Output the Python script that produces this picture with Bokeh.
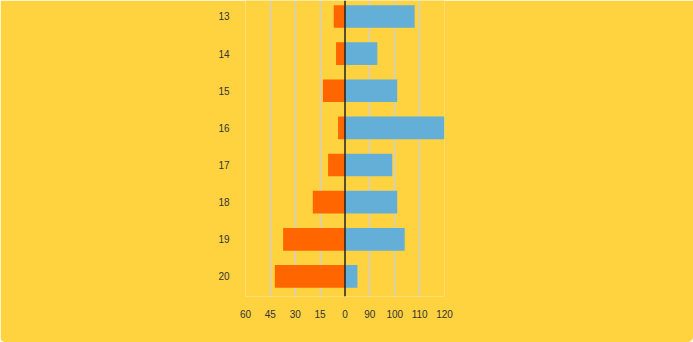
import numpy as np
from bokeh.plotting import figure
from bokeh.models import Range1d, FixedTicker, Span, InlineStyleSheet
from bokeh.embed import file_html
from bokeh.resources import INLINE

# Data
ages = [13, 14, 15, 16, 17, 18, 19, 20]
left_values = [6.8, 5.4, 13.3, 4.2, 10.2, 19.4, 37.3, 42.3]      # orange, left side
right_values = [108, 93, 101, 120, 99, 101, 104, 85]               # blue, right side
left_ticks = [60, 45, 30, 15, 0]
right_ticks = [0, 90, 100, 110, 120]

# mapping to a shared horizontal coordinate (left: 15 units per 10; right starts at 80)
RIGHT_BASE = 80
LEFT_FACTOR = 10 / 15

lx = [-v * LEFT_FACTOR for v in left_values]
rx = [v - RIGHT_BASE for v in right_values]

BG = "#FFD240"
p = figure(width=693, height=342, output_backend="svg", toolbar_location=None,
           x_range=Range1d(-40, 40), y_range=Range1d(20.54, 12.57),
           min_border_left=245, min_border_right=249, min_border_top=0, min_border_bottom=46)
p.background_fill_color = BG
p.border_fill_color = BG
p.outline_line_color = None
p.stylesheets = [InlineStyleSheet(css=":host { border-radius: 0 0 5px 5px; overflow: hidden; }")]

p.hbar(y=ages, left=lx, right=0, height=0.61, fill_color="#FF6600", line_color=None)
p.hbar(y=ages, left=0, right=rx, height=0.61, fill_color="#63AFD7", line_color=None)

tick_pos = [-40, -30, -20, -10, 0, 10, 20, 30, 40]
overrides = {}
for t, lab in zip([-40, -30, -20, -10], left_ticks[:4]):
    overrides[t] = str(lab)
overrides[0] = "0"
for t, lab in zip([10, 20, 30, 40], right_ticks[1:]):
    overrides[t] = str(lab)

p.xaxis.ticker = FixedTicker(ticks=tick_pos)
p.xaxis.major_label_overrides = overrides
p.xaxis.axis_line_color = None
p.xaxis.major_tick_line_color = None
p.xaxis.minor_tick_line_color = None
p.xaxis.major_label_text_font = "Liberation Sans"
p.xaxis.major_label_text_font_size = "10px"
p.xaxis.major_label_text_color = "#333333"
p.xaxis.major_label_standoff = 7

p.yaxis.ticker = FixedTicker(ticks=ages)
p.yaxis.axis_line_color = None
p.yaxis.major_tick_line_color = None
p.yaxis.minor_tick_line_color = None
p.yaxis.major_label_text_font = "Liberation Sans"
p.yaxis.major_label_text_font_size = "10px"
p.yaxis.major_label_text_color = "#333333"
p.yaxis.major_label_standoff = 10

p.xgrid.ticker = FixedTicker(ticks=[-40, -30, -20, -10, 10, 20, 30, 40])
p.xgrid.grid_line_color = "#cfcfcf"
p.xgrid.grid_line_width = 1.5
p.ygrid.grid_line_color = None

p.add_layout(Span(location=0, dimension="height", line_color="#222222", line_width=1.5))

open("out.html", "w").write(file_html(p, INLINE))
